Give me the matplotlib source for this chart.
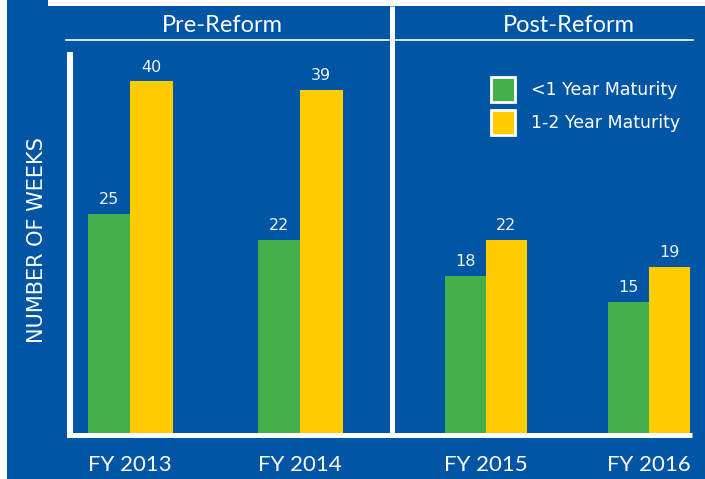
import matplotlib
matplotlib.use("Agg")
import matplotlib.pyplot as plt
from matplotlib.patches import Rectangle, Patch
from matplotlib.lines import Line2D

# ---- data ----
pre_years = ["FY 2013", "FY 2014"]
post_years = ["FY 2015", "FY 2016"]
pre_short = [25, 22]
pre_long = [40, 39]
post_short = [18, 15]
post_long = [22, 19]
series_labels = ["<1 Year Maturity", "1-2 Year Maturity"]
panel_titles = ["Pre-Reform", "Post-Reform"]
ylabel = "NUMBER OF WEEKS"

BLUE = "#0055A5"
GREEN = "#43AE4A"
YELLOW = "#FFCC00"
W, H = 705, 479

fig = plt.figure(figsize=(W / 100, H / 100), dpi=100, facecolor="white")

def fx(x):
    return x / W

def fy(y):
    return 1 - y / H

# background panels
fig.add_artist(Rectangle((fx(7), 0), 1 - fx(7), 1, transform=fig.transFigure,
                         facecolor=BLUE, edgecolor="none", zorder=-10))
fig.add_artist(Rectangle((fx(48), fy(6)), 1 - fx(48), 6 / H, transform=fig.transFigure,
                         facecolor="white", edgecolor="none", zorder=-9))

ax_bottom = fy(434.5)
ax_height = (434.5 - 55) / H
axL = fig.add_axes([fx(70), ax_bottom, fx(391.5) - fx(70), ax_height])
axR = fig.add_axes([fx(391.5), ax_bottom, fx(692) - fx(391.5), ax_height])

bw = 0.25
YMAX = 43.0
for ax, years, s1, s2, xl in [
    (axL, pre_years, pre_short, pre_long, (-60 / 170, 1 + 91.5 / 170)),
    (axR, post_years, post_short, post_long, (-94.5 / 163, 1 + 43 / 163)),
]:
    ax.patch.set_visible(False)
    x = list(range(len(years)))
    b1 = ax.bar([i - bw / 2 for i in x], s1, width=bw, color=GREEN, label=series_labels[0])
    b2 = ax.bar([i + bw / 2 for i in x], s2, width=bw, color=YELLOW, label=series_labels[1])
    for b in (b1, b2):
        ax.bar_label(b, padding=5, color="#EEF2F8", fontsize=11.5, family="DejaVu Sans")
    ax.set_xlim(*xl)
    ax.set_ylim(0, YMAX)
    ax.set_xticks(x)
    ax.set_xticklabels(years, fontsize=16, color="white", family="Lato")
    ax.tick_params(axis="x", length=0, pad=15)
    ax.set_yticks([])
    for s in ("top", "right"):
        ax.spines[s].set_visible(False)
    ax.spines["bottom"].set_color("white")
    ax.spines["bottom"].set_linewidth(3.6)

axL.spines["left"].set_color("white")
axL.spines["left"].set_linewidth(4.3)
axR.spines["left"].set_visible(False)
axR.spines["bottom"].set_capstyle("butt")

# y label
fig.text(fx(37.5), fy(240), ylabel, rotation=90, ha="center", va="center",
         color="white", fontsize=15, family="DejaVu Sans")

# separator and headers
fig.add_artist(Line2D([fx(391.5), fx(391.5)], [fy(6), fy(436)], transform=fig.transFigure,
                      color="white", lw=3.6, zorder=5, solid_capstyle="butt"))
fig.add_artist(Line2D([fx(66), fx(389)], [fy(40), fy(40)], transform=fig.transFigure,
                      color="white", lw=1.2, zorder=5))
fig.add_artist(Line2D([fx(394), fx(693)], [fy(40), fy(40)], transform=fig.transFigure,
                      color="white", lw=1.2, zorder=5))
fig.text(fx(222), fy(25), panel_titles[0], ha="center", va="center", color="white",
         fontsize=17, family="Lato")
fig.text(fx(569), fy(25), panel_titles[1], ha="center", va="center", color="white",
         fontsize=17, family="Lato")

# legend
handles = [Patch(facecolor=GREEN, edgecolor="white", linewidth=2),
           Patch(facecolor=YELLOW, edgecolor="white", linewidth=2)]
leg = axR.legend(handles, series_labels, loc="upper left",
                 bbox_to_anchor=(fx(491), fy(77)), bbox_transform=fig.transFigure,
                 frameon=False, handlelength=1.4, handleheight=1.8,
                 labelspacing=0.5, handletextpad=0.9, borderpad=0, borderaxespad=0,
                 prop={"family": "DejaVu Sans", "size": 12.5})
for t in leg.get_texts():
    t.set_color("white")

fig.savefig("out.png", dpi=100, facecolor="white")
